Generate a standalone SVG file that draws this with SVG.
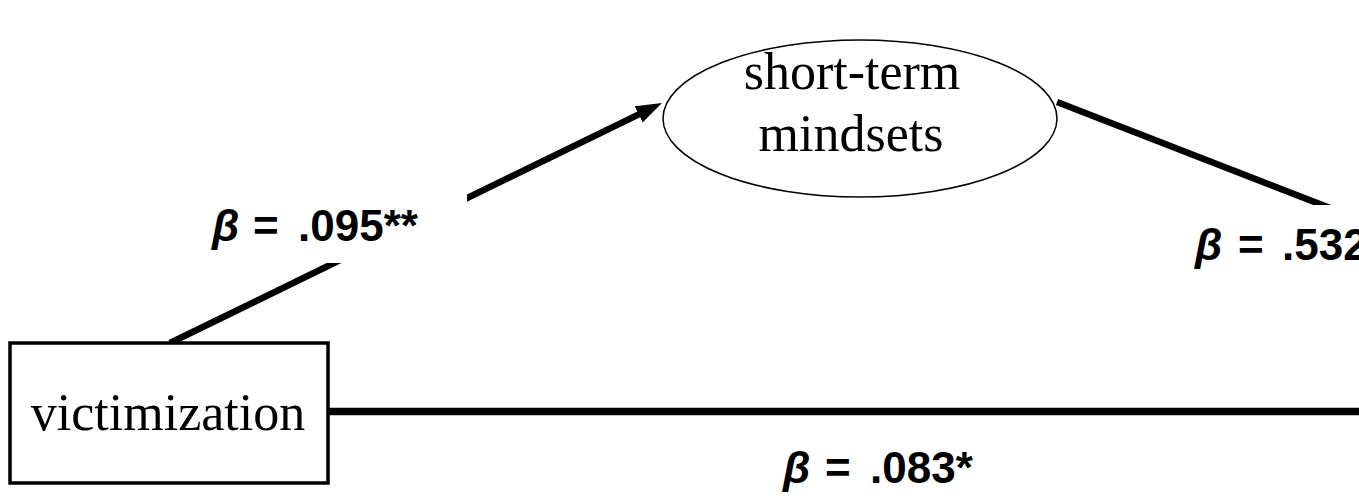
<svg xmlns="http://www.w3.org/2000/svg" width="1359" height="500" viewBox="0 0 1359 500">
  <style>
    .node { fill: #ffffff; stroke: #000000; }
    .ntext { font-family: "Liberation Serif", "Times New Roman", serif; font-size: 52px; fill: #000000; text-anchor: middle; }
    .conn { stroke: #000000; fill: none; stroke-linecap: butt; }
    .lbl { font-family: "Liberation Sans", Arial, sans-serif; font-size: 44px; font-weight: bold; fill: #000000; }
    .lblbg { fill: #ffffff; stroke: none; }
  </style>
  <defs>
    <marker id="arrow" markerUnits="userSpaceOnUse" markerWidth="30" markerHeight="20" refX="6" refY="9" orient="auto">
      <path d="M0,0 L26,9 L0,18 z" fill="#000000"/>
    </marker>
  </defs>
  <rect width="1359" height="500" fill="#ffffff"/>

  <g id="connectors">
    <line class="conn" x1="170" y1="343" x2="644" y2="111.8" stroke-width="6.5" marker-end="url(#arrow)"/>
    <line class="conn" x1="1057" y1="102" x2="1420" y2="243" stroke-width="6.5"/>
    <line class="conn" x1="328" y1="411.5" x2="1365" y2="411.5" stroke-width="7.5"/>
  </g>

  <g id="label-a">
    <rect class="lblbg" x="200" y="185" width="267" height="78"/>
    <text class="lbl" x="212" y="241"><tspan font-style="italic">β</tspan><tspan x="253">=</tspan><tspan x="298">.095**</tspan></text>
  </g>
  <g id="label-b">
    <rect class="lblbg" x="1180" y="205" width="190" height="70"/>
    <text class="lbl" x="1195" y="260"><tspan font-style="italic">β</tspan><tspan x="1238">=</tspan><tspan x="1282">.532</tspan></text>
  </g>
  <g id="label-c">
    <text class="lbl" x="783" y="483"><tspan font-style="italic">β</tspan><tspan x="825">=</tspan><tspan x="870">.083*</tspan></text>
  </g>

  <g id="victimization">
    <rect class="node" x="10" y="343" width="318" height="140" stroke-width="3.5"/>
    <text class="ntext" x="168" y="430">victimization</text>
  </g>

  <g id="short-term-mindsets">
    <ellipse class="node" cx="860" cy="118.5" rx="197" ry="78.5" stroke-width="1.5"/>
    <text class="ntext" x="852" y="89">short-term</text>
    <text class="ntext" x="851" y="151">mindsets</text>
  </g>
</svg>
